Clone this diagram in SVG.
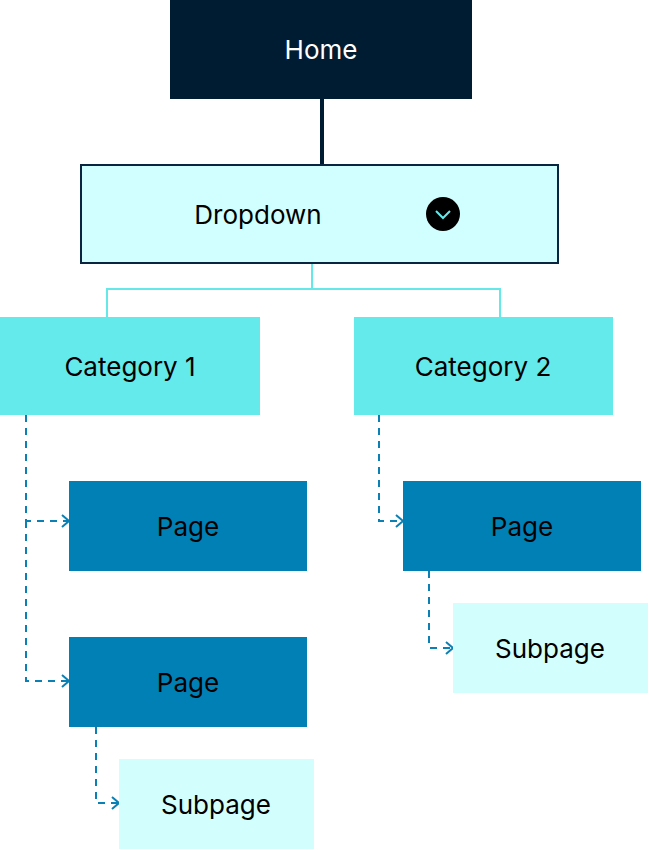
<svg xmlns="http://www.w3.org/2000/svg" width="649" height="850" viewBox="0 0 649 850">
<defs>
<marker id="ch" viewBox="0 0 10 14" refX="9" refY="7" markerWidth="10" markerHeight="14" markerUnits="userSpaceOnUse" orient="auto"><path d="M2 1 L9 7 L2 13" fill="none" stroke="#0a80b4" stroke-width="2"/></marker>
<style>
text{font-family:Inter,"Noto Sans",sans-serif;font-size:26px;fill:#000;text-anchor:middle;dominant-baseline:central}
.d{fill:none;stroke:#0a80b4;stroke-width:2;stroke-dasharray:7 6;marker-end:url(#ch)}
.cat{fill:#64eaea}.pg{fill:#0080b4}.sp{fill:#d3fefe}
</style>
</defs>
<g id="connectors">
<line x1="322" y1="99" x2="322" y2="165" stroke="#001c33" stroke-width="4"/>
<path d="M312 263V289M107 317V289H500V317" fill="none" stroke="#64e8e8" stroke-width="2"/>
<path class="d" d="M26 415V521H69"/>
<path class="d" d="M26 521V681H69"/>
<path class="d" d="M96 727V803H119"/>
<path class="d" d="M379 415V521H403"/>
<path class="d" d="M429 571V648H453"/>
</g>
<g id="home"><rect x="170" y="0" width="302" height="99" fill="#001c33"/><text x="321" y="49" style="fill:#fff">Home</text></g>
<g id="dropdown"><rect x="81" y="165" width="477" height="98" fill="#d1fefe" stroke="#0a2540" stroke-width="2"/><text x="258" y="214">Dropdown</text><circle cx="443" cy="214" r="17" fill="#000"/><path d="M436 211 L443 218 L450 211" fill="none" stroke="#64eaea" stroke-width="2"/></g>
<g id="cat1"><rect class="cat" x="0" y="317" width="260" height="98"/><text x="130" y="366">Category 1</text></g>
<g id="cat2"><rect class="cat" x="354" y="317" width="259" height="98"/><text x="483" y="366">Category 2</text></g>
<g id="page1"><rect class="pg" x="69" y="481" width="238" height="90"/><text x="188" y="526">Page</text></g>
<g id="page2"><rect class="pg" x="69" y="637" width="238" height="90"/><text x="188" y="682">Page</text></g>
<g id="page3"><rect class="pg" x="403" y="481" width="238" height="90"/><text x="522" y="526">Page</text></g>
<g id="sub1"><rect class="sp" x="119" y="759" width="195" height="90"/><text x="216" y="804">Subpage</text></g>
<g id="sub2"><rect class="sp" x="453" y="603" width="195" height="90"/><text x="550" y="648">Subpage</text></g>
</svg>
